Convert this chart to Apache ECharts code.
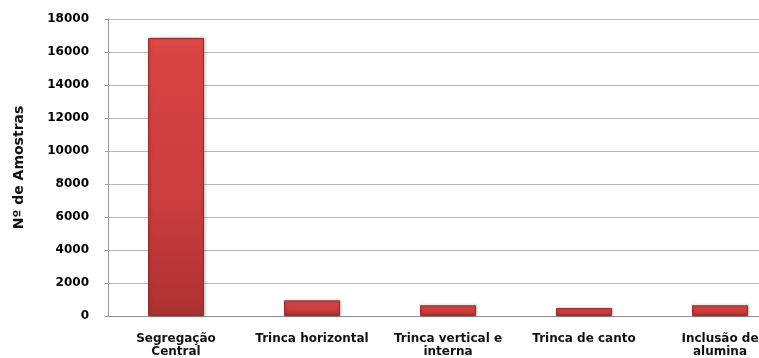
<!DOCTYPE html>
<html>
<head>
<meta charset="utf-8">
<script src="https://cdn.jsdelivr.net/npm/echarts@6/dist/echarts.min.js"></script>
<style>
  html, body { margin: 0; padding: 0; background: #fff; overflow: hidden; width: 759px; height: 358px; }
  /* the drawing is wider than the window; its right end is clipped */
  #chart { width: 790px; height: 358px; }
</style>
</head>
<body>
<div id="chart"></div>
<script>
// Defect categories and sample counts
const categories = [
  'Segregação\nCentral',
  'Trinca horizontal',
  'Trinca vertical e\ninterna',
  'Trinca de canto',
  'Inclusão de\nalumina'
];
const amostras = [16850, 950, 650, 480, 650];
const yTicks = { min: 0, max: 18000, interval: 2000 };
const yAxisTitle = 'Nº de Amostras';

const chart = echarts.init(document.getElementById('chart'), null, { renderer: 'canvas' });

// Red fill, light at the top and darker towards the base
const barFill = new echarts.graphic.LinearGradient(0, 0, 0, 1, [
  { offset: 0, color: '#e04a4a' },
  { offset: 0.04, color: '#d94444' },
  { offset: 0.6, color: '#c93d3d' },
  { offset: 1, color: '#ad3131' }
]);

const wideBold = 'DejaVu Sans, Verdana, sans-serif';

chart.setOption({
  animation: false,
  backgroundColor: '#ffffff',
  grid: { left: 108, top: 19, right: 2, bottom: 42, containLabel: false },
  xAxis: {
    type: 'category',
    data: categories,
    axisLine: { show: true, lineStyle: { color: '#8c8c8c', width: 1 } },
    axisTick: { show: false },
    axisLabel: {
      interval: 0,
      margin: 16,
      color: '#111',
      fontFamily: wideBold,
      fontWeight: 'bold',
      fontSize: 12,
      lineHeight: 13
    }
  },
  yAxis: {
    type: 'value',
    min: yTicks.min,
    max: yTicks.max,
    interval: yTicks.interval,
    name: yAxisTitle,
    nameLocation: 'middle',
    nameRotate: 90,
    nameGap: 82,
    nameTextStyle: {
      color: '#111',
      fontFamily: wideBold,
      fontWeight: 'bold',
      fontSize: 14
    },
    axisLine: { show: true, lineStyle: { color: '#9a9a9a', width: 1 } },
    axisTick: { show: true, length: 3, inside: false, lineStyle: { color: '#9a9a9a' } },
    splitLine: { show: true, lineStyle: { color: '#b8b8b8', width: 1 } },
    axisLabel: {
      margin: 19,
      color: '#000',
      fontFamily: wideBold,
      fontWeight: 'bold',
      fontSize: 12,
      formatter: v => String(v)
    }
  },
  series: [{
    type: 'bar',
    data: amostras,
    barWidth: 56,
    itemStyle: {
      color: barFill,
      borderColor: '#9a2b2b',
      borderWidth: 1,
      shadowColor: 'rgba(0,0,0,0.25)',
      shadowBlur: 3,
      shadowOffsetX: 1,
      shadowOffsetY: 0
    }
  }]
});
</script>
</body>
</html>
